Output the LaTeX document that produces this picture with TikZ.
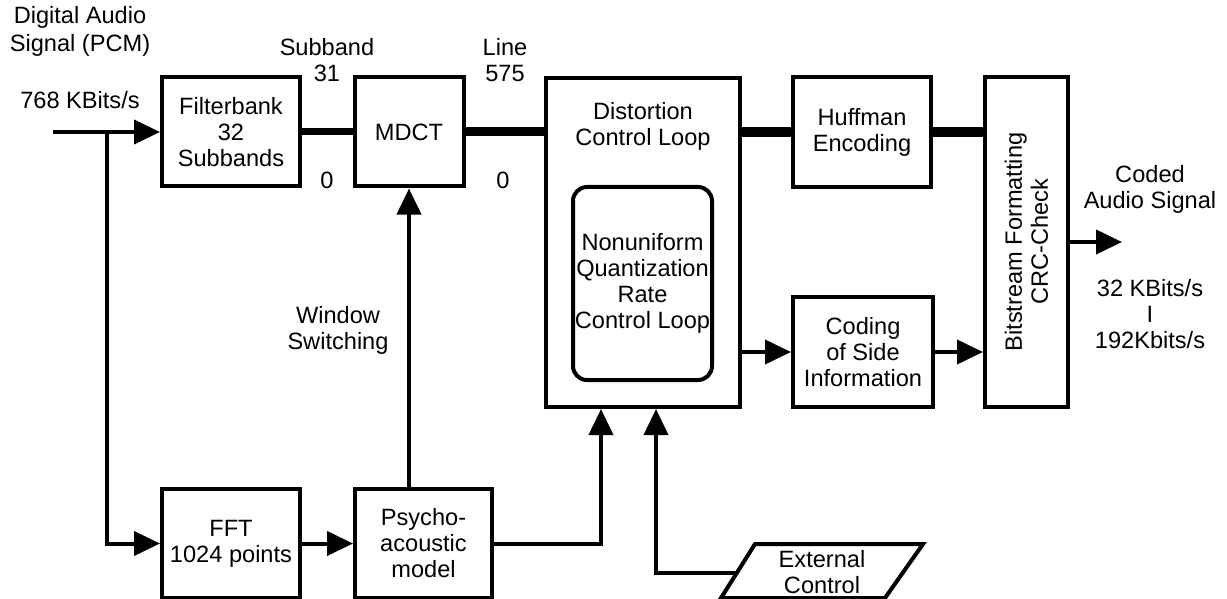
\documentclass[tikz,border=0pt]{standalone}
\usepackage{fontspec}
\setmainfont{Liberation Sans}
\usetikzlibrary{arrows.meta}

\begin{document}
\begin{tikzpicture}[
    x=0.5pt, y=-0.5pt,
    font=\fontsize{11.8}{13}\selectfont,
    >={Triangle[length=13pt,width=12pt]},
    block/.style={draw, line width=2pt, align=center, inner sep=0pt},
    txt/.style={align=center},
    line/.style={->, line width=2pt}
]
\useasboundingbox (0,0) rectangle (1227,599);
% blocks
\node[block, minimum width=69pt, minimum height=54.5pt] (fb) at (231,132) {Filterbank\\32\\Subbands};
\node[block, minimum width=54.5pt, minimum height=54.5pt] (mdct) at (409,132) {MDCT};
\node[block, minimum width=97pt, minimum height=164.5pt] (dcl) at (643,242.5) {};
\node[txt] (dcltext) at (643,126) {Distortion\\Control Loop};
\node[block, rounded corners=7pt, minimum width=69.5pt, minimum height=96.5pt] (nuq) at (642.5,283.5) {Nonuniform\\Quantization\\Rate\\Control Loop};
\node[block, minimum width=69pt, minimum height=55pt] (huff) at (862,132) {Huffman\\Encoding};
\node[block, minimum width=41.5pt, minimum height=165pt] (bsf) at (1026.5,242) {};
\node[txt, rotate=90] (bsftext) at (bsf) {Bitstream Formatting\\CRC-Check};
\node[block, minimum width=70pt, minimum height=55pt] (side) at (863,352) {Coding\\of Side\\Information};
\node[block, minimum width=69pt, minimum height=54.5pt] (fft) at (231,543.5) {FFT\\1024 points};
\node[block, minimum width=68.5pt, minimum height=54.5pt] (psy) at (423.5,543.5) {Psycho-\\acoustic\\model};
\draw[line width=2pt] (755,544) -- (923,544) -- (885,598) -- (721,598) -- cycle;
\node[txt] (ext) at (822,572) {External\\Control};
% labels
\node[txt, font=\fontsize{11.8}{14}\selectfont] (insig) at (80,31) {Digital Audio\\Signal (PCM)};
\node (inrate) at (80,100) {768 KBits/s};
\node[txt] (sb31) at (327,60) {Subband\\31};
\node (sb0) at (327,180) {0};
\node[txt] (ln575) at (505,60) {Line\\575};
\node (ln0) at (503,180) {0};
\node[txt] (winsw) at (338,330) {Window\\Switching};
\node[txt] (coded) at (1150,189.5) {Coded\\Audio Signal};
\node[txt] (outrate) at (1150,314) {32 KBits/s\\I\\192Kbits/s};
% connectors
\coordinate (inp) at (53,132);
\coordinate (split) at (107,132);
\coordinate (extin) at (738,573);
\coordinate (outp) at (1122,242);
\draw[line] (inp) -- (fb);
\draw[line] (split) |- (fft);
\draw[line width=3.5pt] (fb) -- (mdct);
\draw[line width=4.5pt] (mdct) -- (mdct -| dcl.west);
\draw[line width=5pt] (dcl.east |- huff) -- (huff);
\draw[line width=5pt] (huff) -- (huff -| bsf.west);
\draw[line] (fft) -- (psy);
\draw[line] (psy.north -| mdct) -- (mdct);
\draw[line] (psy) -| ([xshift=-21pt]dcl.south);
\draw[line] (extin) -| ([xshift=6.5pt]dcl.south);
\draw[line] (dcl.east |- side) -- (side);
\draw[line] (side) -- (side -| bsf.west);
\draw[line] (bsf) -- (outp);
\end{tikzpicture}
\end{document}
